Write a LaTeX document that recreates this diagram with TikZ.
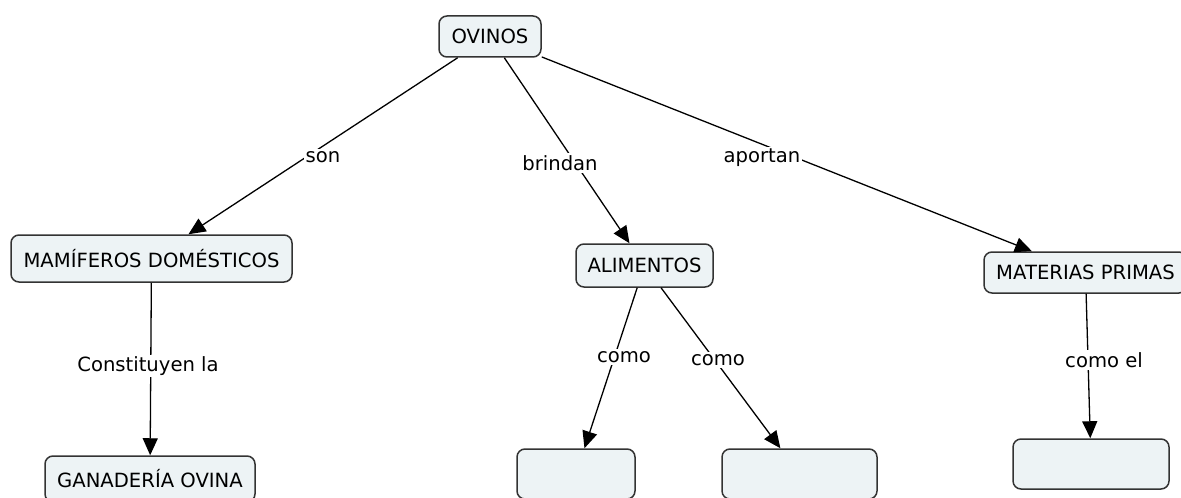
\documentclass[tikz,border=0pt]{standalone}
\usepackage{fontspec}
\setmainfont{DejaVu Sans}
\usetikzlibrary{arrows.meta}

\definecolor{conceptfill}{HTML}{EDF3F5}
\definecolor{conceptline}{HTML}{333333}

\tikzset{
	concept/.style={draw=conceptline, line width=0.75pt, fill=conceptfill, rounded corners=4pt, inner sep=0pt, font=\fontsize{9.8}{11}\selectfont},
	linkword/.style={fill=white, inner sep=1pt, font=\fontsize{9.8}{11}\selectfont},
	link/.style={line width=0.65pt, -{Triangle[length=8.5pt,width=7.5pt]}}
}

\begin{document}
\begin{tikzpicture}[x=0.5pt,y=-0.5pt]

	\useasboundingbox (0,0) rectangle (1181,497);

	% concepts
	\node[concept, minimum width=51pt, minimum height=20.5pt] (ovinos) at (490,36.5) {OVINOS};
	\node[concept, minimum width=140.5pt, minimum height=23.5pt] (mamiferos) at (151.5,258.5) {MAMÍFEROS DOMÉSTICOS};
	\node[concept, minimum width=105pt, minimum height=23pt] (ganaderia) at (150,479) {GANADERÍA OVINA};
	\node[concept, minimum width=68.5pt, minimum height=21.5pt] (alimentos) at (644.5,265.5) {ALIMENTOS};
	\node[concept, minimum width=101.5pt, minimum height=20.5pt] (materias) at (1085.5,272.5) {MATERIAS PRIMAS};

	% empty concepts
	\foreach \name/\x/\y/\w in {vacio1/576/474/118, vacio2/799.5/474/155, vacio3/1091/464/156}
		\node[concept, minimum width=\w*0.5pt, minimum height=25pt] (\name) at (\x,\y) {};
		; %end for \name

	% links
	\foreach \from/\to in {ovinos/mamiferos, ovinos/alimentos, ovinos/materias, mamiferos/ganaderia, alimentos/vacio1, alimentos/vacio2, materias/vacio3}
		\draw[link] (\from) -- (\to);
		; %end for \from

	% linking words
	\node[linkword] (son) at (323,157) {son};
	\node[linkword] (brindan) at (560,163) {brindan};
	\node[linkword] (aportan) at (762,158) {aportan};
	\node[linkword] (constituyen) at (148,366) {Constituyen la};
	\node[linkword] (como1) at (624,357) {como};
	\node[linkword] (como2) at (718,360) {como};
	\node[linkword] (comoel) at (1104,360) {como el};

\end{tikzpicture}
\end{document}
